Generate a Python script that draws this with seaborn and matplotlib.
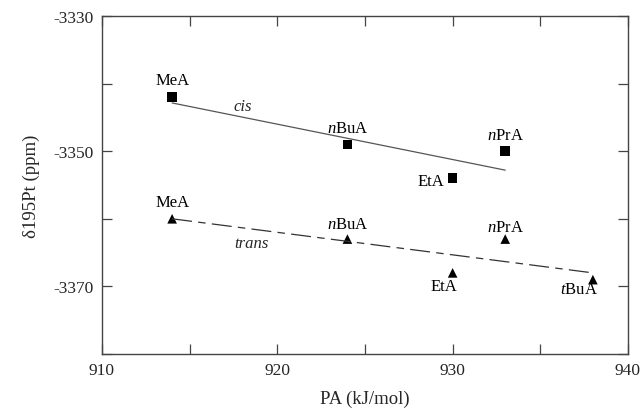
import numpy as np
import pandas as pd
import matplotlib
matplotlib.use("Agg")
import matplotlib.pyplot as plt
from matplotlib.ticker import MultipleLocator
import seaborn as sns

# ---- data ----
cis_amines = ["MeA", "nBuA", "EtA", "nPrA"]
cis_pa = [914, 924, 930, 933]
cis_shift = [-3342, -3349, -3354, -3350]

trans_amines = ["MeA", "nBuA", "EtA", "nPrA", "tBuA"]
trans_pa = [914, 924, 930, 933, 938]
trans_shift = [-3360, -3363, -3368, -3363, -3369]

label_tex = {"MeA": "MeA", "nBuA": r"$\it{n}$BuA", "EtA": "EtA",
             "nPrA": r"$\it{n}$PrA", "tBuA": r"$\it{t}$BuA"}

sns.set_theme(style="ticks")
plt.rcParams["font.family"] = ["Liberation Serif", "DejaVu Serif"]
plt.rcParams["mathtext.fontset"] = "custom"
plt.rcParams["mathtext.rm"] = "Liberation Serif"
plt.rcParams["mathtext.it"] = "Liberation Serif:italic"
plt.rcParams["axes.unicode_minus"] = False

df = pd.concat([
    pd.DataFrame({"PA": cis_pa, "shift": cis_shift, "amine": cis_amines, "isomer": "cis"}),
    pd.DataFrame({"PA": trans_pa, "shift": trans_shift, "amine": trans_amines, "isomer": "trans"}),
], ignore_index=True)

fig = plt.figure(figsize=(6.43, 4.14), dpi=100)
ax = fig.add_axes([0.1586, 0.1425, 0.818, 0.8165])

cis = df[df.isomer == "cis"]
trans = df[df.isomer == "trans"]

sns.regplot(data=cis, x="PA", y="shift", ci=None, scatter=False, ax=ax,
            line_kws=dict(color="#555555", lw=0.9))
sns.regplot(data=trans, x="PA", y="shift", ci=None, scatter=False, ax=ax,
            line_kws=dict(color="#333333", lw=0.9, dashes=(16, 5, 6, 5)))

sns.scatterplot(data=df, x="PA", y="shift", style="isomer",
                markers={"cis": "s", "trans": "^"}, color="black",
                s=48, edgecolor="black", linewidth=0, legend=False, ax=ax)

fs = 12
cis_off = {"MeA": (0, 12, "center"), "nBuA": (0, 12, "center"),
           "EtA": (-6, -2, "right"), "nPrA": (0, 12, "center")}
for a, x, y in zip(cis_amines, cis_pa, cis_shift):
    dx, dy, ha = cis_off[a]
    ax.annotate(label_tex[a], (x, y), xytext=(dx, dy), textcoords="offset points",
                ha=ha, va="center", fontsize=fs, color="black")
trans_off = {"MeA": (0, 12, "center"), "nBuA": (0, 10.5, "center"),
             "EtA": (-6, -9.5, "center"), "nPrA": (0, 9, "center"),
             "tBuA": (-10, -7, "center")}
for a, x, y in zip(trans_amines, trans_pa, trans_shift):
    dx, dy, ha = trans_off[a]
    ax.annotate(label_tex[a], (x, y), xytext=(dx, dy), textcoords="offset points",
                ha=ha, va="center", fontsize=fs, color="black")

ax.text(918, -3343.3, "cis", style="italic", fontsize=fs, ha="center", va="center")
ax.text(918.5, -3363.6, "trans", style="italic", fontsize=fs, ha="center", va="center")

ax.set_xlim(910, 940)
ax.set_ylim(-3380, -3330)
ax.set_xticks([910, 920, 930, 940])
ax.set_yticks([-3370, -3350, -3330])
ax.xaxis.set_minor_locator(MultipleLocator(5))
ax.yaxis.set_minor_locator(MultipleLocator(10))
ax.tick_params(which="both", direction="in", top=True, right=True,
               length=7, width=0.9, color="#444444", labelsize=12.5, pad=6)
for s in ax.spines.values():
    s.set_color("#444444")
    s.set_linewidth(1.0)

ax.set_xlabel("PA (kJ/mol)", fontsize=13.5, labelpad=8)
ax.set_ylabel("δ195Pt (ppm)", fontsize=13.5, labelpad=10)

fig.savefig("out.png", dpi=100)
